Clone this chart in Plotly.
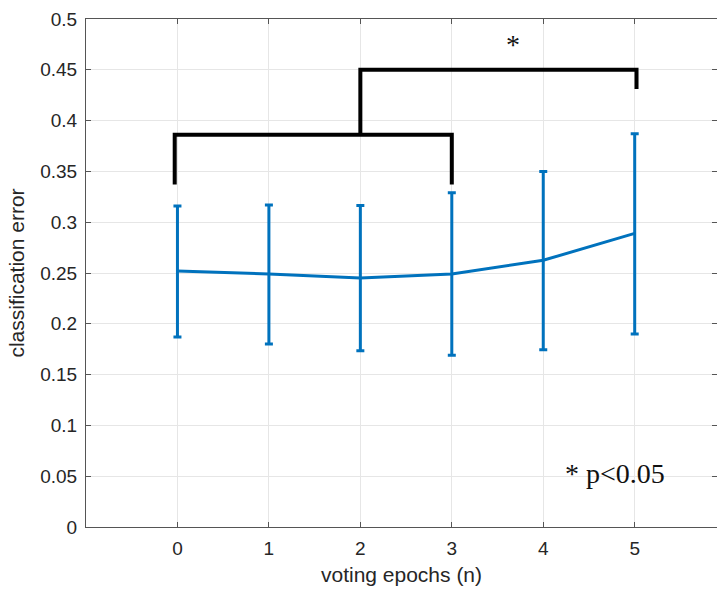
import plotly.graph_objects as go

epochs = [0, 1, 2, 3, 4, 5]
mean_err = [0.252, 0.249, 0.245, 0.249, 0.2625, 0.289]
upper_err = [0.316, 0.317, 0.3165, 0.329, 0.350, 0.387]
lower_err = [0.187, 0.180, 0.1735, 0.169, 0.1745, 0.190]

bracket1_x = [-0.03, -0.03, 3.0, 3.0]
bracket1_y = [0.337, 0.386, 0.386, 0.337]
bracket2_x = [2.0, 2.0, 5.02, 5.02]
bracket2_y = [0.386, 0.450, 0.450, 0.431]

y_ticks = [0, 0.05, 0.1, 0.15, 0.2, 0.25, 0.3, 0.35, 0.4, 0.45, 0.5]
y_tick_labels = ["0", "0.05", "0.1", "0.15", "0.2", "0.25", "0.3", "0.35", "0.4", "0.45", "0.5"]

err_plus = [u - m for u, m in zip(upper_err, mean_err)]
err_minus = [m - l for m, l in zip(mean_err, lower_err)]

blue = "#0072BD"
fig = go.Figure()
fig.add_trace(go.Scatter(
    x=epochs, y=mean_err, mode="lines",
    line=dict(color=blue, width=3),
    error_y=dict(type="data", symmetric=False, array=err_plus, arrayminus=err_minus,
                 color=blue, thickness=3, width=4),
    showlegend=False, hoverinfo="skip"))
for bx, by in [(bracket1_x, bracket1_y), (bracket2_x, bracket2_y)]:
    fig.add_trace(go.Scatter(x=bx, y=by, mode="lines",
                             line=dict(color="black", width=4),
                             showlegend=False, hoverinfo="skip"))

fig.add_annotation(x=3.67, y=0.475, text="*", showarrow=False,
                   font=dict(family="Liberation Serif", size=28, color="#111"))
fig.add_annotation(x=4.787, y=0.053, text="* p<0.05", showarrow=False,
                   font=dict(family="Liberation Serif", size=28, color="#111"))

axis_common = dict(showline=True, linecolor="#555555", linewidth=1, mirror="ticks",
                   ticks="inside", ticklen=5, tickcolor="#555555",
                   showgrid=True, gridcolor="#e6e6e6", gridwidth=1, zeroline=False,
                   tickfont=dict(family="Liberation Sans", size=19, color="#262626"))

fig.update_layout(
    width=717, height=591,
    margin=dict(l=86, r=0, t=19, b=64),
    plot_bgcolor="white", paper_bgcolor="white",
    xaxis=dict(range=[-1, 5.9], tickvals=epochs, ticktext=[str(e) for e in epochs],
               ticklabelstandoff=4,
               title=dict(text="voting epochs (n)", standoff=9,
                          font=dict(family="Liberation Sans", size=21, color="#262626")),
               **axis_common),
    yaxis=dict(range=[0, 0.5], tickvals=y_ticks, ticktext=y_tick_labels,
               ticklabelstandoff=4,
               title=dict(text="classification error", standoff=9,
                          font=dict(family="Liberation Sans", size=21, color="#262626")),
               **axis_common),
)
fig.write_html("out.html")
